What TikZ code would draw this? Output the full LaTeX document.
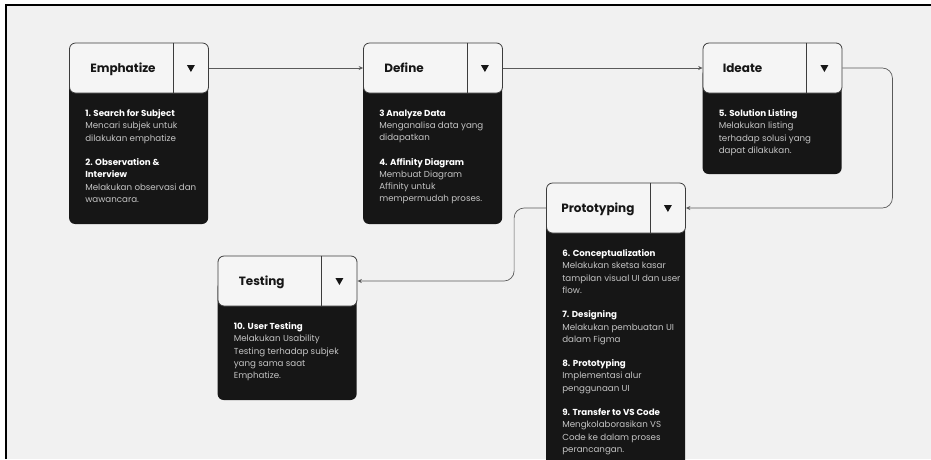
\documentclass[tikz,border=0pt]{standalone}
\usepackage{fontspec}
\setmainfont{Poppins}
\usetikzlibrary{arrows.meta,backgrounds}

\definecolor{paper}{HTML}{F1F1F1}
\definecolor{ink}{HTML}{161616}
\definecolor{cardtop}{HTML}{F5F5F5}
\definecolor{edge}{HTML}{3C3C3C}
\definecolor{note}{HTML}{C4C4C4}
\definecolor{wire}{HTML}{5A5A5A}

\newcommand\steptitle[1]{\textcolor{white}{\bfseries #1}}

\begin{document}
\begin{tikzpicture}[
        x=1pt, y=-1pt,
        head/.style={draw=edge, line width=0.8pt, fill=cardtop, rounded corners=6pt,
            minimum width=139pt, minimum height=50pt, inner sep=0pt},
        headtxt/.style={anchor=base west, inner sep=0pt, text=ink,
            font=\fontsize{12}{14}\selectfont\bfseries},
        desc/.style={anchor=north west, inner sep=0pt, align=left, text=note,
            font=\fontsize{8.7}{12.3}\selectfont},
        panel/.style={fill=ink, rounded corners=6pt},
        conn/.style={draw=wire, line width=0.7pt, rounded corners=10pt,
            -{Stealth[length=4.5pt,width=4pt]}}
    ]
        \clip (0,0) rectangle (931,459);

        % Card headers
        \node[head] (emph)  at (139,68)    {};
        \node[head] (def)   at (433,68)    {};
        \node[head] (ide)   at (772.5,68)  {};
        \node[head] (proto) at (616,208)   {};
        \node[head] (test)  at (287.5,281) {};

        \node[headtxt] (emph-t)  at ([shift={(21,4.5)}]emph.west)  {Emphatize};
        \node[headtxt] (def-t)   at ([shift={(21,4.5)}]def.west)   {Define};
        \node[headtxt] (ide-t)   at ([shift={(20,4.5)}]ide.west)   {Ideate};
        \node[headtxt] (proto-t) at ([shift={(15,4.5)}]proto.west) {Prototyping};
        \node[headtxt] (test-t)  at ([shift={(21,4.5)}]test.west)  {Testing};

        % Divider and dropdown mark
        \foreach \c in {emph,def,ide,proto,test} {
            \draw[edge, line width=0.8pt] ([xshift=-36pt]\c.north east) -- ([xshift=-36pt]\c.south east);
            \fill[ink] ([shift={(-22,-3)}]\c.east) -- ++(8,0) -- ++(-4,7) -- cycle;
        }

        % Dark panels and page behind the headers
        \begin{pgfonlayer}{background}
            \fill[white] (0,0) rectangle (931,459);
            \fill[paper] (6,5) rectangle (931,459);
            \draw[black, line width=1.4pt] (6,459) -- (6,5) -- (931,5);
            \fill[panel] (emph.west)  rectangle ++(139,156);
            \fill[panel] (def.west)   rectangle ++(139,156);
            \fill[panel] (ide.west)   rectangle ++(139,106);
            \fill[panel] (proto.west) rectangle ++(139,300);
            \fill[panel] (test.west)  rectangle ++(139,119);
        \end{pgfonlayer}

        % Step lists
        \node[desc] (emph-d) at ([shift={(16,16)}]emph.south west) {%
            \steptitle{1. Search for Subject}\\
            Mencari subjek untuk\\
            dilakukan emphatize\\[12pt]
            \steptitle{2. Observation \&}\\
            \steptitle{Interview}\\
            Melakukan observasi dan\\
            wawancara.};
        \node[desc] (def-d) at ([shift={(16,16)}]def.south west) {%
            \steptitle{3 Analyze Data}\\
            Menganalisa data yang\\
            didapatkan\\[12pt]
            \steptitle{4. Affinity Diagram}\\
            Membuat Diagram\\
            Affinity untuk\\
            mempermudah proses.};
        \node[desc] (ide-d) at ([shift={(16,16)}]ide.south west) {%
            \steptitle{5. Solution Listing}\\
            Melakukan listing\\
            terhadap solusi yang\\
            dapat dilakukan.};
        \node[desc] (proto-d) at ([shift={(16,16)}]proto.south west) {%
            \steptitle{6. Conceptualization}\\
            Melakukan sketsa kasar\\
            tampilan visual UI dan user\\
            flow.\\[12pt]
            \steptitle{7. Designing}\\
            Melakukan pembuatan UI\\
            dalam Figma\\[12pt]
            \steptitle{8. Prototyping}\\
            Implementasi alur\\
            penggunaan UI\\[12pt]
            \steptitle{9. Transfer to VS Code}\\
            Mengkolaborasikan VS\\
            Code ke dalam proses\\
            perancangan.};
        \node[desc] (test-d) at ([shift={(16,16)}]test.south west) {%
            \steptitle{10. User Testing}\\
            Melakukan Usability\\
            Testing terhadap subjek\\
            yang sama saat\\
            Emphatize.};

        % Flow between the stages
        \draw[conn] (emph.east) -- (def.west);
        \draw[conn] (def.east) -- (ide.west);
        \draw[conn] (ide.east) -- ++(50,0) |- (proto.east);
        \draw[conn] (proto.west) -- ++(-32,0) |- (test.east);

    \end{tikzpicture}
\end{document}
